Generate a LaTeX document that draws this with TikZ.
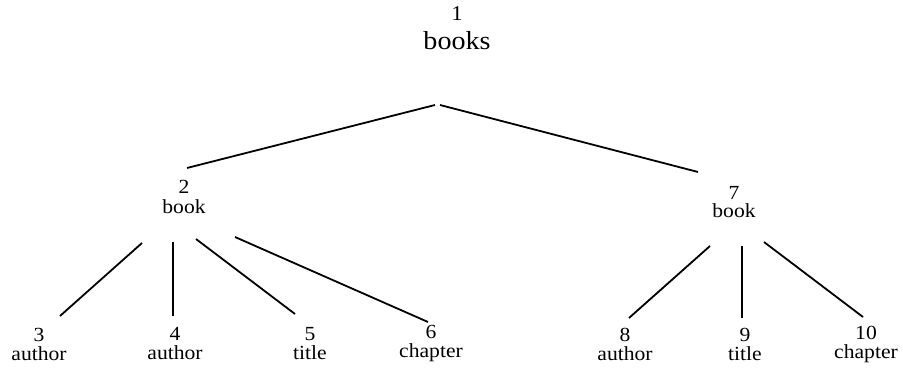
\documentclass[tikz,border=0pt]{standalone}
\usepackage{fontspec}
\setmainfont{Liberation Serif}[FakeStretch=1.08]
\begin{document}
\begin{tikzpicture}[x=1pt,y=-1pt,
  tnode/.style={align=center,inner sep=0pt,font=\fontsize{20}{19}\selectfont},
  edge/.style={line width=1.8pt,black}]
\useasboundingbox (0,0) rectangle (903,371);
% nodes
\node[align=center,inner sep=0pt,font=\fontsize{21}{29}\selectfont] (n1) at (457,28) {1\\{\fontsize{26}{26}\selectfont books}};
\node[tnode,font=\fontsize{20}{20}\selectfont] (n2) at (184,197) {2\\book};
\node[tnode,font=\fontsize{20}{18.5}\selectfont] (n7) at (734,202) {7\\book};
\node[tnode] (n3) at (39,344) {3\\author};
\node[tnode] (n4) at (175,344) {4\\author};
\node[tnode] (n5) at (310,344) {5\\title};
\node[tnode] (n6) at (431,344) {6\\chapter};
\node[tnode] (n8) at (625,344) {8\\author};
\node[tnode] (n9) at (745,344) {9\\title};
\node[tnode] (n10) at (866,344) {10\\chapter};
% connector ends
\coordinate (r-l) at (435,105);
\coordinate (r-r) at (440,105);
\coordinate (a2) at (187,168);
\coordinate (a7) at (698,172);
\coordinate (b23) at (142,243);  \coordinate (t3) at (60,316);
\coordinate (b24) at (173,242);  \coordinate (t4) at (173,316);
\coordinate (b25) at (196,239);  \coordinate (t5) at (295,314);
\coordinate (b26) at (235,237);  \coordinate (t6) at (428,322);
\coordinate (b78) at (710,246);  \coordinate (t8) at (629,318);
\coordinate (b79) at (742,246);  \coordinate (t9) at (742,318);
\coordinate (b710) at (764,242); \coordinate (t10) at (863,317);
% connectors
\draw[edge] (r-l) -- (a2);
\draw[edge] (r-r) -- (a7);
\draw[edge] (b23) -- (t3);
\draw[edge] (b24) -- (t4);
\draw[edge] (b25) -- (t5);
\draw[edge] (b26) -- (t6);
\draw[edge] (b78) -- (t8);
\draw[edge] (b79) -- (t9);
\draw[edge] (b710) -- (t10);
\end{tikzpicture}
\end{document}
